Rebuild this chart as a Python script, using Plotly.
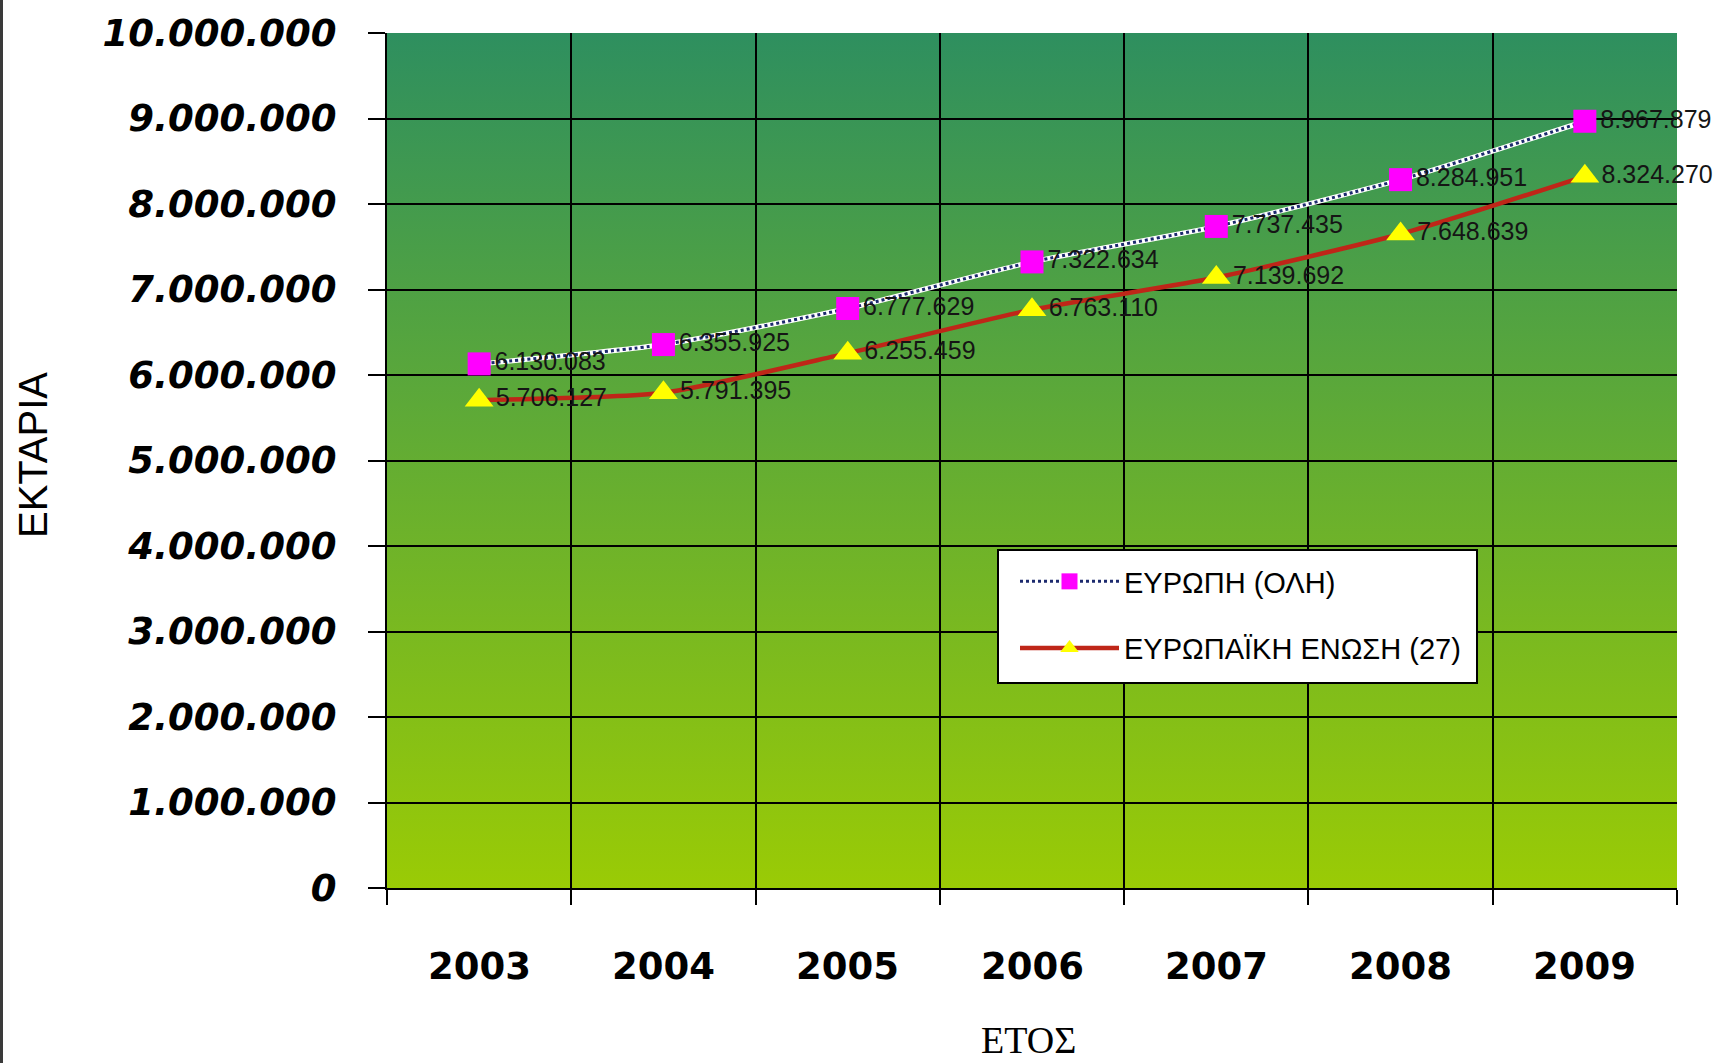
import base64
import plotly.graph_objects as go

# Organic farming area (hectares), 2003-2009
years = ["2003", "2004", "2005", "2006", "2007", "2008", "2009"]
europe_total = [6130083, 6355925, 6777629, 7322634, 7737435, 8284951, 8967879]
eu27 = [5706127, 5791395, 6255459, 6763110, 7139692, 7648639, 8324270]

name_europe = "ΕΥΡΩΠΗ (ΟΛΗ)"
name_eu = "ΕΥΡΩΠΑΪΚΗ ΕΝΩΣΗ (27)"
y_title = "ΕΚΤΑΡΙΑ"
x_title = "ΕΤΟΣ"

y_max = 10000000
y_step = 1000000

W, H = 1733, 1063
ML, MR, MT, MB = 387, 56, 33, 175
PW, PH = W - ML - MR, H - MT - MB


def px_x(px):
    """page pixel column -> paper x"""
    return (px - ML) / PW


def px_y(px):
    """page pixel row -> paper y"""
    return (MT + PH - px) / PH


# categories sit in the middle of each band; bands are delimited by integer positions
xpos = [i + 0.5 for i in range(len(years))]
edges = list(range(len(years) + 1))
inner_edges = edges[1:-1]
inner_levels = list(range(y_step, y_max, y_step))

fig = go.Figure()

# Europe (whole): white base with a navy dotted line on top
fig.add_trace(go.Scatter(
    x=xpos, y=europe_total, mode="lines", showlegend=False, hoverinfo="skip",
    line=dict(color="white", width=5, shape="spline", smoothing=0.6),
))
fig.add_trace(go.Scatter(
    x=xpos, y=europe_total, mode="lines+markers", name=name_europe,
    legendgroup="a",
    line=dict(color="#1c2a6e", width=3, dash="dot", shape="spline", smoothing=0.6),
    marker=dict(symbol="square", size=23, color="#ff00ff"),
))

# EU-27
fig.add_trace(go.Scatter(
    x=xpos, y=eu27, mode="lines+markers", name=name_eu,
    legendgroup="b",
    line=dict(color="#bf2618", width=4.5, shape="spline", smoothing=0.6),
    marker=dict(symbol="triangle-up", size=25, color="#ffff00"),
))

# value labels
for vals, sz in ((europe_total, 23), (eu27, 25)):
    fig.add_trace(go.Scatter(
        x=xpos, y=vals, mode="markers+text", showlegend=False, hoverinfo="skip",
        marker=dict(size=sz, color="rgba(0,0,0,0)"),
        texttemplate="%{y:,d}", textposition="middle right",
        textfont=dict(family="Liberation Sans, Arial, sans-serif", size=25, color="#151515"),
        cliponaxis=False,
    ))

# vertical gradient behind the plot area
svg = (
    '<svg xmlns="http://www.w3.org/2000/svg" width="10" height="100" '
    'viewBox="0 0 10 100" preserveAspectRatio="none">'
    '<defs><linearGradient id="g" x1="0" y1="0" x2="0" y2="1">'
    '<stop offset="0" stop-color="#2e8f5f"/>'
    '<stop offset="1" stop-color="#9acb05"/>'
    '</linearGradient></defs>'
    '<rect width="10" height="100" fill="url(#g)"/></svg>'
)
svg_uri = "data:image/svg+xml;base64," + base64.b64encode(svg.encode()).decode()

year_labels = [
    dict(text=yr, xref="x", yref="paper", x=xp, y=px_y(966), showarrow=False,
         xanchor="center", yanchor="middle",
         font=dict(family="DejaVu Sans, sans-serif", size=37, color="black", weight="bold"))
    for xp, yr in zip(xpos, years)
]

fig.update_layout(
    width=W, height=H,
    margin=dict(l=ML, r=MR, t=MT, b=MB, pad=0),
    paper_bgcolor="white",
    plot_bgcolor="rgba(0,0,0,0)",
    separators=",.",
    images=[dict(
        source=svg_uri, xref="paper", yref="paper", x=0, y=1,
        sizex=1, sizey=1, sizing="stretch", layer="below",
        xanchor="left", yanchor="top",
    )],
    legend=dict(
        x=px_x(1015), y=px_y(556), xanchor="left", yanchor="top",
        bgcolor="rgba(0,0,0,0)", borderwidth=0,
        font=dict(family="Liberation Sans, Arial, sans-serif", size=29, color="black"),
        itemwidth=99, tracegroupgap=26, traceorder="grouped",
    ),
    showlegend=True,
    annotations=year_labels + [
        dict(text=y_title, textangle=-90, xref="paper", yref="paper",
             x=px_x(33), y=px_y(455), showarrow=False,
             xanchor="center", yanchor="middle",
             font=dict(family="Liberation Sans, Arial, sans-serif", size=40, color="black")),
        dict(text=x_title, xref="paper", yref="paper",
             x=px_x(1028), y=px_y(1040), showarrow=False,
             xanchor="center", yanchor="middle",
             font=dict(family="Liberation Serif, Times New Roman, serif", size=38, color="black")),
    ],
    shapes=[
        # legend box
        dict(type="rect", xref="paper", yref="paper", layer="above",
             x0=px_x(998), x1=px_x(1477), y0=px_y(683), y1=px_y(550),
             fillcolor="white", line=dict(color="black", width=2)),
        # frame line along the left edge of the page
        dict(type="line", xref="paper", yref="paper",
             x0=px_x(1.5), x1=px_x(1.5), y0=px_y(H), y1=px_y(0),
             line=dict(color="#3a3a3a", width=3)),
    ],
)

fig.update_xaxes(
    range=[0, len(years)],
    tickvals=edges, ticktext=[""] * len(edges),
    ticks="outside", ticklen=15, tickwidth=2, tickcolor="black",
    showgrid=False, zeroline=False,
    showline=True, linecolor="black", linewidth=2,
    minor=dict(tickvals=inner_edges, ticks="", showgrid=True,
               gridcolor="black", gridwidth=2),
)
fig.update_yaxes(
    range=[0, y_max], dtick=y_step, tickformat=",d",
    ticks="outside", ticklen=17, tickwidth=2, tickcolor="black",
    showgrid=False, zeroline=False,
    showline=True, linecolor="black", linewidth=2,
    tickfont=dict(family="DejaVu Sans, sans-serif", size=37, color="black",
                  weight="bold", style="italic"),
    ticklabelstandoff=24,
    minor=dict(tickvals=inner_levels, ticks="", showgrid=True,
               gridcolor="black", gridwidth=2),
)

fig.write_html("out.html")
